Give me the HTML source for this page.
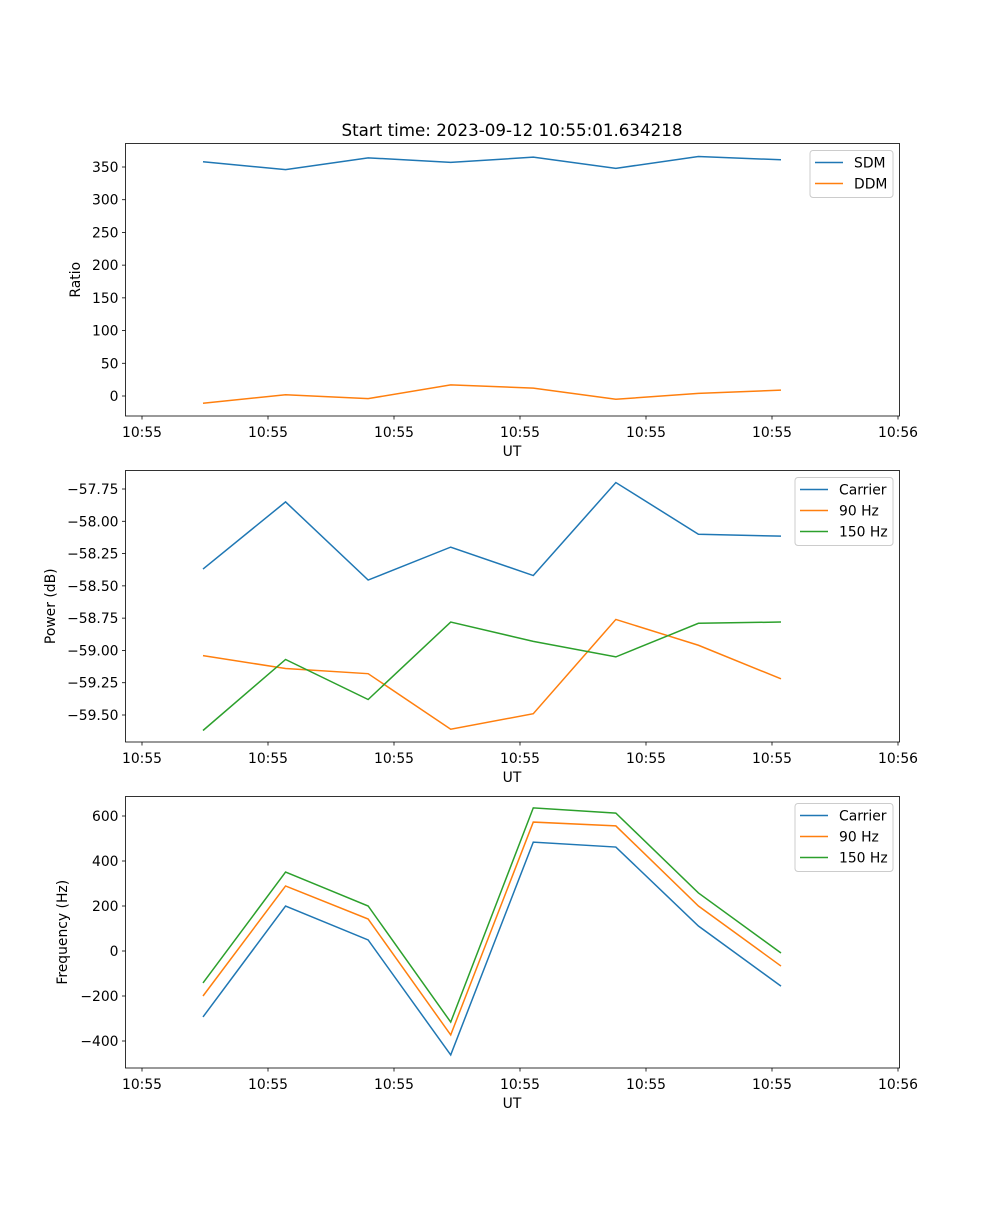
<!DOCTYPE html>
<html><head><meta charset="utf-8"><style>
body{margin:0;background:#fff}
svg text{font-family:"DejaVu Sans","Liberation Sans",sans-serif;font-size:13.9px;fill:#000}
</style></head><body>
<svg id="fig" width="1000" height="1200" xmlns="http://www.w3.org/2000/svg"></svg>
<script>
const xTickLabels=["10:55","10:55","10:55","10:55","10:55","10:55","10:56"];
const sdm=[358,346,364,357,365,348,366,361];
const ddm=[-11,2,-4,17,12,-5,4,9];
const pwrCarrier=[-58.37,-57.85,-58.455,-58.20,-58.42,-57.70,-58.10,-58.115];
const pwr90=[-59.04,-59.14,-59.18,-59.61,-59.49,-58.76,-58.96,-59.22];
const pwr150=[-59.62,-59.07,-59.38,-58.78,-58.93,-59.05,-58.79,-58.78];
const frqCarrier=[-293,200,49,-462,484,462,111,-156];
const frq90=[-200,289,142,-373,573,556,200,-67];
const frq150=[-142,351,200,-316,636,613,258,-9];
const ticks1=[0,50,100,150,200,250,300,350];
const ticks2=[-59.5,-59.25,-59.0,-58.75,-58.5,-58.25,-58.0,-57.75];
const ticks3=[-400,-200,0,200,400,600];
const C=["#1f77b4","#ff7f0e","#2ca02c"];
const svg=document.getElementById('fig');
const NS="http://www.w3.org/2000/svg";
function el(t,a,p){const e=document.createElementNS(NS,t);for(const k in a)e.setAttribute(k,a[k]);(p||svg).appendChild(e);return e;}
function txt(s,a,p){const e=el('text',a,p);e.textContent=s;return e;}
const L=125.5,R=899.5;
const xScale=i=>203+i*82.57;
const xTickPos=i=>142+i*126;
function fmt(v,d){return (v<0?"\u2212":"")+Math.abs(v).toFixed(d);}
function panel(name,top,bot,v0,y0,v1,y1,ticks,dec,ylabel,ylabX,series,labels,leg){
  const g=el('g',{},svg);
  
  
  const ys=v=>y0+(v-v0)*(y1-y0)/(v1-v0);
  ticks.forEach(t=>{const y=ys(t);
    const l=el('line',{x1:L-3.5,x2:L,y1:y,y2:y,stroke:'#000','stroke-width':0.8},g);
    
    const tt=txt(fmt(t,dec),{x:L-7,y:y+5,'text-anchor':'end'},g);
    });
  xTickLabels.forEach((s,i)=>{const x=xTickPos(i);
    el('line',{x1:x,x2:x,y1:bot,y2:bot+3.5,stroke:'#000','stroke-width':0.8},g);
    const tt=txt(s,{x:x,y:bot+21,'text-anchor':'middle'},g);
    });
  const xl=txt('UT',{x:512,y:bot+40,'text-anchor':'middle'},g);
  
  const yc=(top+bot)/2;
  const yl=txt(ylabel,{x:ylabX,y:yc,'text-anchor':'middle',transform:`rotate(-90 ${ylabX} ${yc})`},g);
  
  series.forEach((s,k)=>{
    const p=el('polyline',{points:s.map((v,i)=>xScale(i)+','+ys(v)).join(' '),fill:'none',stroke:C[k],'stroke-width':1.5},g);
    
    });
  el('rect',{x:L,y:top,width:R-L,height:bot-top,fill:'none',stroke:'#000','stroke-width':0.8},g);
  const lg=el('g',{},g);
  
  el('rect',{x:leg,y:top+7,width:893-leg,height:labels.length*21+5,rx:3,fill:'#fff',stroke:'#ccc','stroke-width':1},lg);
  labels.forEach((s,k)=>{const y=top+19+k*21;
    el('line',{x1:leg+5,x2:leg+33,y1:y,y2:y,stroke:C[k],'stroke-width':1.5},lg);
    const t=txt(s,{x:leg+44,y:y+5},lg);
    });
}
const title=txt('Start time: 2023-09-12 10:55:01.634218',{x:512,y:136,'text-anchor':'middle',style:'font-size:16.7px'});


panel('ratio-panel',143.5,416,0,396,350,167,ticks1,0,'Ratio',80,[sdm,ddm],['SDM','DDM'],810);
panel('power-panel',470.5,742,-57.75,489,-59.5,715,ticks2,2,'Power (dB)',55,[pwrCarrier,pwr90,pwr150],['Carrier','90 Hz','150 Hz'],795);
panel('frequency-panel',796.5,1068,600,816,-400,1041,ticks3,0,'Frequency (Hz)',67,[frqCarrier,frq90,frq150],['Carrier','90 Hz','150 Hz'],795);
</script>
</body></html>
